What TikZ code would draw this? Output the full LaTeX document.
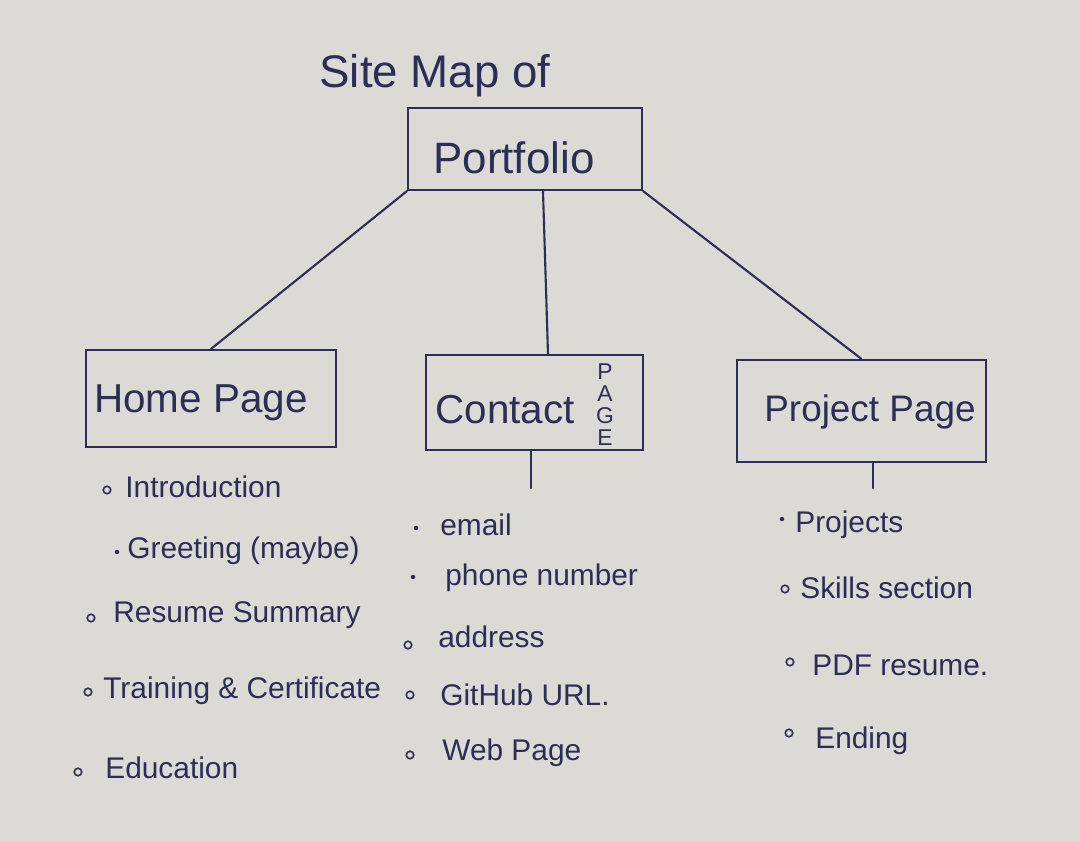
\documentclass[tikz,border=0pt]{standalone}
\usepackage{fontspec}
\setmainfont{Liberation Sans}
\usetikzlibrary{calc}
\definecolor{paper}{HTML}{DCDAD4}
\definecolor{ink}{HTML}{2C2E58}
\begin{document}
\begin{tikzpicture}[x=0.02cm,y=-0.02cm,
  ink/.style={draw=ink,line width=1.2pt,line cap=round},
  pagebox/.style={draw=ink,line width=1.2pt,rectangle,inner sep=0pt},
  boxtext/.style={text=ink,font=\fontsize{23}{26}\selectfont,inner sep=0pt},
  item/.style={text=ink,font=\fontsize{17}{20}\selectfont,anchor=west,inner sep=0pt,text height=1.6ex,text depth=0.4ex,yshift=-0.1cm},
  ring/.style={draw=ink,line width=0.9pt,circle,inner sep=0pt,minimum size=0.15cm},
  dot/.style={fill=ink,circle,inner sep=0pt,minimum size=0.09cm}]
  % sheet of paper
  \fill[paper] (0,0) rectangle (1080,841);
  \useasboundingbox (0,0) rectangle (1080,841);

  % title
  \node[boxtext,font=\fontsize{26}{28}\selectfont] (title) at (435,76) {Site Map of};

  % page boxes
  \node[pagebox,minimum width=4.68cm,minimum height=1.64cm] (port) at (525,149) {};
  \node[boxtext,font=\fontsize{25}{28}\selectfont] (porttxt) at (514,158) {Portfolio};
  \node[pagebox,minimum width=5.0cm,minimum height=1.94cm] (home) at (211,398.5) {};
  \node[boxtext] (hometxt) at (201,403) {Home Page};
  \node[pagebox,minimum width=4.34cm,minimum height=1.9cm] (contact) at (534.5,402.5) {};
  \node[boxtext] (contacttxt) at (505,410) {Contact};
  \node[text=ink,font=\fontsize{13}{12.5}\selectfont,align=center,inner sep=0pt] (pagetag) at (605,405) {P\\A\\G\\E};
  \node[pagebox,minimum width=4.98cm,minimum height=2.04cm] (proj) at (861.5,411) {};
  \node[boxtext,font=\fontsize{21}{24}\selectfont] (projtxt) at (870,412) {Project Page};

  % branches from the portfolio root
  \draw[ink] (port.south west) -- (home.north);
  \draw[ink] ([xshift=0.36cm]port.south) -- ([xshift=0.27cm]contact.north);
  \draw[ink] (port.south east) -- (proj.north);

  % short ticks under contact and project pages
  \coordinate (cstub) at (531,488);
  \coordinate (pstub) at (873,488);
  \draw[ink] (contact.south -| cstub) -- (cstub);
  \draw[ink] (proj.south -| pstub) -- (pstub);

  % home page contents
  \node[ring] (h1b) at (107,490) {};
  \node[item] (h1) at (125,487) {Introduction};
  \node[dot] (h2b) at (117,552) {};
  \node[item] (h2) at (127,548) {Greeting (maybe)};
  \node[ring] (h3b) at (91,618) {};
  \node[item] (h3) at (113,612) {Resume Summary};
  \node[ring] (h4b) at (88,692) {};
  \node[item] (h4) at (103,688) {Training \& Certificate};
  \node[ring] (h5b) at (78,772) {};
  \node[item] (h5) at (105,768) {Education};

  % contact page contents
  \node[dot] (c1b) at (416,528) {};
  \node[item] (c1) at (440,525) {email};
  \node[dot] (c2b) at (413,577) {};
  \node[item] (c2) at (445,575) {phone number};
  \node[ring] (c3b) at (408,645) {};
  \node[item] (c3) at (438,637) {address};
  \node[ring] (c4b) at (410,695) {};
  \node[item] (c4) at (440,695) {GitHub URL.};
  \node[ring] (c5b) at (410,755) {};
  \node[item] (c5) at (442,750) {Web Page};

  % project page contents
  \node[dot] (p1b) at (782,519) {};
  \node[item] (p1) at (795,522) {Projects};
  \node[ring] (p2b) at (785,589) {};
  \node[item] (p2) at (800,588) {Skills section};
  \node[ring] (p3b) at (790,662) {};
  \node[item] (p3) at (812,665) {PDF resume.};
  \node[ring] (p4b) at (789,733) {};
  \node[item] (p4) at (815,738) {Ending};
\end{tikzpicture}
\end{document}
